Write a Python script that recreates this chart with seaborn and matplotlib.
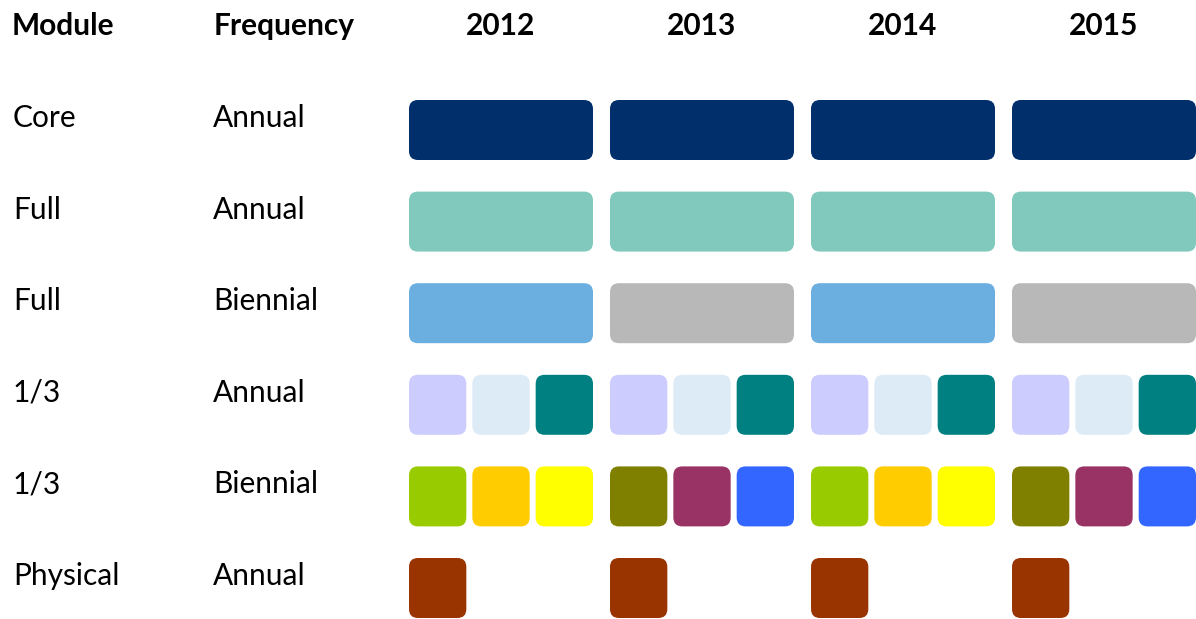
import matplotlib
matplotlib.use("Agg")
from matplotlib import pyplot as plt
from matplotlib.patches import FancyBboxPatch
import pandas as pd
import seaborn as sns

# data
years = ["2012", "2013", "2014", "2015"]
modules = ["Core", "Full", "Full", "1/3", "1/3", "Physical"]
frequencies = ["Annual", "Annual", "Biennial", "Annual", "Biennial", "Annual"]

# colours of each cell, per row, per year (one entry = full bar, three = thirds)
core_colors = [["#002f6c"]] * 4
full_annual_colors = [["#80c9bc"]] * 4
full_biennial_colors = [["#6aafe0"], ["#b8b8b8"], ["#6aafe0"], ["#b8b8b8"]]
third_annual_colors = [["#ccccff", "#ddebf7", "#008080"]] * 4
third_biennial_colors = [["#99cc00", "#ffcc00", "#ffff00"],
                         ["#808000", "#993366", "#3366ff"]] * 2
physical_colors = [["#993300"]] * 4

rows = [core_colors, full_annual_colors, full_biennial_colors,
        third_annual_colors, third_biennial_colors, physical_colors]

# table of cells: row, year, slot, number of slots, colour
cells = []
for r, row in enumerate(rows):
    for y, col_list in enumerate(row):
        # physical module only takes one third slot
        n = 3 if (len(col_list) == 3 or r == 5) else 1
        for s, c in enumerate(col_list):
            cells.append({"row": r, "year": y, "slot": s, "n": n, "color": c})
df = pd.DataFrame(cells)

sns.set_theme(style="white")
plt.rcParams["font.family"] = ["Lato", "DejaVu Sans"]
plt.rcParams["text.color"] = "black"

W, H = 1196, 619
fig = plt.figure(figsize=(W / 100, H / 100), dpi=100)
ax = fig.add_axes([0, 0, 1, 1])
ax.set_xlim(0, W)
ax.set_ylim(H, 0)
ax.axis("off")

col_x0, col_step, col_w = 409, 201, 184
row_y0, row_step, row_h = 100, 91.6, 60
gap = 6
pad = 9

for _, c in df.iterrows():
    slot_w = (col_w - gap * (c["n"] - 1)) / c["n"]
    x = col_x0 + c["year"] * col_step + c["slot"] * (slot_w + gap)
    y = row_y0 + c["row"] * row_step
    ax.add_patch(FancyBboxPatch((x + pad, y + pad), slot_w - 2 * pad, row_h - 2 * pad,
                                boxstyle=f"round,pad={pad}", fc=c["color"], ec="none"))

fs = 21.5
ax.text(12, 26, "Module", fontsize=fs, fontweight="bold", va="center", ha="left")
ax.text(214, 26, "Frequency", fontsize=fs, fontweight="bold", va="center", ha="left")
for i, yr in enumerate(years):
    ax.text(col_x0 + i * col_step + col_w / 2, 26, yr, fontsize=fs,
            fontweight="bold", va="center", ha="center")
for r, (m, f) in enumerate(zip(modules, frequencies)):
    yc = row_y0 + r * row_step + 18
    ax.text(13, yc, m, fontsize=fs, va="center", ha="left")
    ax.text(213, yc, f, fontsize=fs, va="center", ha="left")

fig.savefig("out.png", dpi=100)
